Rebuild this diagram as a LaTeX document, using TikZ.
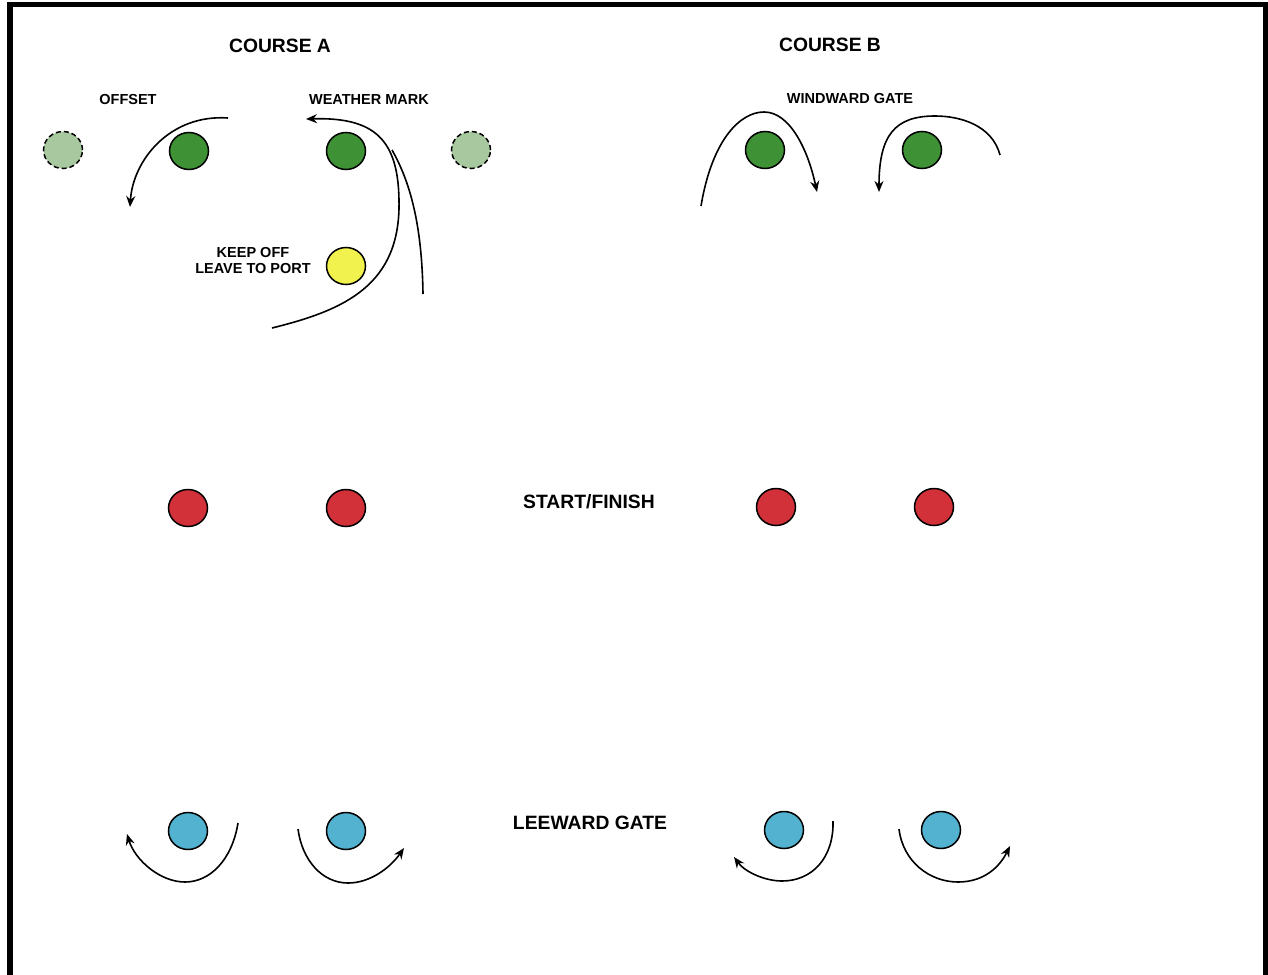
\documentclass[tikz,border=0pt]{standalone}
\usepackage{fontspec}
\setmainfont{Liberation Sans}
\usetikzlibrary{shapes.geometric,arrows.meta}
\definecolor{mkgreen}{HTML}{3E9134}
\definecolor{mklight}{HTML}{A8C8A0}
\definecolor{mkyellow}{HTML}{F2F24E}
\definecolor{mkred}{HTML}{D2313A}
\definecolor{mkblue}{HTML}{52B2CF}
\tikzset{
  buoy/.style={ellipse, draw=black, line width=1.5pt, minimum width=39pt, minimum height=37pt, inner sep=0pt},
  gbuoy/.style={buoy, fill=mkgreen},
  lbuoy/.style={buoy, fill=mklight, dashed, dash pattern=on 5pt off 3pt},
  ybuoy/.style={buoy, fill=mkyellow},
  rbuoy/.style={buoy, fill=mkred},
  bbuoy/.style={buoy, fill=mkblue},
  bigtxt/.style={font=\fontsize{19.3pt}{22pt}\selectfont\bfseries, inner sep=0pt},
  smalltxt/.style={font=\fontsize{14.5pt}{16pt}\selectfont\bfseries, inner sep=0pt, align=center},
  route/.style={line width=1.6pt, draw=black},
  routearr/.style={route, -{Stealth[length=11pt,width=9pt]}},
}
\begin{document}
\begin{tikzpicture}[x=1pt,y=-1pt]
\useasboundingbox (0,0) rectangle (1268,974);
\fill[white] (0,0) rectangle (1268,974);
\begin{scope}
\clip (0,0) rectangle (1268,974);
\draw[line width=5.5pt] (10,4.5) rectangle (1265.5,990);
\end{scope}

% titles
\node[bigtxt] (ca) at (280,46) {COURSE A};
\node[bigtxt] (cb) at (830,45) {COURSE B};
\node[bigtxt] (sf) at (589,502) {START/FINISH};
\node[bigtxt] (lg) at (590,823) {LEEWARD GATE};
\node[smalltxt] (off) at (128,100) {OFFSET};
\node[smalltxt] (wm) at (369,100) {WEATHER MARK};
\node[smalltxt] (wg) at (850,99) {WINDWARD GATE};
\node[smalltxt] (ko) at (253,261) {KEEP OFF\\LEAVE TO PORT};

% course A marks
\node[lbuoy] (o1) at (63,150) {};
\node[gbuoy] (g1) at (189,151) {};
\node[gbuoy] (g2) at (346,151) {};
\node[lbuoy] (o2) at (471,150) {};
\node[ybuoy] (y1) at (346,266) {};
% course B marks
\node[gbuoy] (g3) at (765,150) {};
\node[gbuoy] (g4) at (922,150) {};
% start/finish
\node[rbuoy] (r1) at (188,508) {};
\node[rbuoy] (r2) at (346,508) {};
\node[rbuoy] (r3) at (776,507) {};
\node[rbuoy] (r4) at (934,507) {};
% leeward
\node[bbuoy] (b1) at (188,831) {};
\node[bbuoy] (b2) at (346,831) {};
\node[bbuoy] (b3) at (784,830) {};
\node[bbuoy] (b4) at (941,830) {};

% route end points
\coordinate (offS) at (228,118);
\coordinate (offE) at (130,207);
\coordinate (wmS) at (272,328);
\coordinate (wmM) at (399,200);
\coordinate (wmE) at (306,119);
\coordinate (wm2S) at (423,294);
\coordinate (wm2E) at (392,150);
\coordinate (wgaS) at (701,206);
\coordinate (wgaE) at (817,192);
\coordinate (wgbS) at (1000,155);
\coordinate (wgbE) at (879,192);
\coordinate (laS) at (238,823);
\coordinate (laE) at (127,834);
\coordinate (lbS) at (298,829);
\coordinate (lbE) at (404,848);
\coordinate (lcS) at (833,821);
\coordinate (lcE) at (734,857);
\coordinate (ldS) at (899,829);
\coordinate (ldE) at (1010,846);

% course A routes
\draw[routearr] (offS) .. controls (170,114) and (133,160) .. (offE);
\draw[routearr] (wmS) .. controls (345,310) and (401,285) .. (wmM)
                     .. controls (398,140) and (375,117) .. (wmE);
\draw[route] (wm2S) .. controls (422,230) and (412,185) .. (wm2E);
% course B windward gate
\draw[routearr] (wgaS) .. controls (712,140) and (740,112) .. (764,112)
                      .. controls (790,112) and (808,150) .. (wgaE);
\draw[routearr] (wgbS) .. controls (992,125) and (960,116) .. (935,116)
                      .. controls (895,116) and (879,135) .. (wgbE);
% leeward routes
\draw[routearr] (laS) .. controls (232,860) and (210,882) .. (185,882)
                     .. controls (160,882) and (135,860) .. (laE);
\draw[routearr] (lbS) .. controls (302,860) and (322,883) .. (348,883)
                     .. controls (370,883) and (390,868) .. (lbE);
\draw[routearr] (lcS) .. controls (834,858) and (812,881) .. (782,881)
                     .. controls (765,881) and (745,872) .. (lcE);
\draw[routearr] (ldS) .. controls (903,862) and (930,882) .. (958,882)
                     .. controls (985,882) and (1000,866) .. (ldE);
\end{tikzpicture}
\end{document}
